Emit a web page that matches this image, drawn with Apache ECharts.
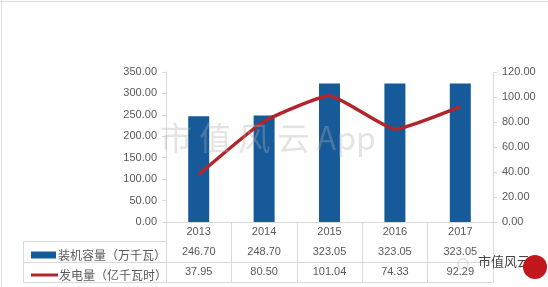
<!DOCTYPE html>
<html><head><meta charset="utf-8">
<script src="https://cdn.jsdelivr.net/npm/echarts@6/dist/echarts.min.js"></script>
<style>html,body{margin:0;padding:0;background:#fff}#c{width:548px;height:287px}</style>
</head><body><div id="c"></div>
<script>
var categories = ['2013', '2014', '2015', '2016', '2017'];
var capacity = [246.70, 248.70, 323.05, 323.05, 323.05];
var generation = [37.95, 80.50, 101.04, 74.33, 92.29];
var capName = '装机容量（万千瓦）';
var genName = '发电量（亿千瓦时）';

var gray = '#d9d9d9';
var txt = '#595959';
var chart = echarts.init(document.getElementById('c'), null, {renderer: 'canvas'});
function fmt(v){ return Number(v).toFixed(2); }
var tableAxis = function(data, offset, margin, showLabel){
  return {
    type: 'category', position: 'bottom', offset: offset, data: data,
    axisLine: {show: true, lineStyle: {color: gray, width: 1}},
    axisTick: {show: false},
    axisLabel: {show: showLabel, margin: margin, fontSize: 11, color: txt, fontFamily: 'Liberation Sans'},
    splitLine: {show: false}
  };
};
chart.setOption({
  animation: false,
  grid: {left: 166, right: 55, top: 72, bottom: 65},
  legend: [
    {data: [{name: capName, icon: 'rect'}], left: 26, top: 244, itemWidth: 25, itemHeight: 7,
     textStyle: {fontSize: 12, color: txt, fontFamily: 'Noto Sans CJK SC', padding: [0,0,0,-3]}},
    {data: [{name: genName, icon: 'rect'}], left: 26, top: 264, itemWidth: 27, itemHeight: 3,
     textStyle: {fontSize: 12, color: txt, fontFamily: 'Noto Sans CJK SC', padding: [0,0,0,-4]}}
  ],
  xAxis: [
    {type: 'category', data: categories, position: 'bottom',
     axisLine: {show: true, lineStyle: {color: gray}},
     axisTick: {show: true, length: 60, interval: 0, lineStyle: {color: gray}},
     axisLabel: {margin: 4, fontSize: 11, color: txt, fontFamily: 'Liberation Sans'}},
    tableAxis(capacity.map(fmt), 19, 5, true),
    tableAxis(generation.map(fmt), 40, 4, true),
    tableAxis(categories, 60, 4, false)
  ],
  yAxis: [
    {type: 'value', min: 0, max: 350, interval: 50, position: 'left',
     axisLine: {show: true, lineStyle: {color: gray}},
     axisTick: {show: true, length: 4, lineStyle: {color: gray}},
     splitLine: {show: false},
     axisLabel: {formatter: fmt, fontSize: 11, color: txt, margin: 9, fontFamily: 'Liberation Sans'}},
    {type: 'value', min: 0, max: 120, interval: 20, position: 'right',
     axisLine: {show: true, lineStyle: {color: gray}},
     axisTick: {show: true, length: 4, lineStyle: {color: gray}},
     splitLine: {show: false},
     axisLabel: {formatter: fmt, fontSize: 11, color: txt, margin: 9, fontFamily: 'Liberation Sans'}}
  ],
  series: [
    {name: capName, type: 'bar', data: capacity, barWidth: 21, xAxisIndex: 0, yAxisIndex: 0,
     itemStyle: {color: '#165a9a'}},
    {name: genName, type: 'line', data: generation, xAxisIndex: 0, yAxisIndex: 1,
     smooth: 0.15, symbol: 'none', lineStyle: {color: '#b0262c', width: 3.5}, itemStyle: {color: '#b0262c'}, z: 3}
  ],
  graphic: [
    {type: 'line', shape: {x1: 23, y1: 241.5, x2: 166, y2: 241.5}, style: {stroke: gray, lineWidth: 1}, silent: true},
    {type: 'line', shape: {x1: 23, y1: 262.5, x2: 166, y2: 262.5}, style: {stroke: gray, lineWidth: 1}, silent: true},
    {type: 'line', shape: {x1: 23, y1: 282.5, x2: 166, y2: 282.5}, style: {stroke: gray, lineWidth: 1}, silent: true},
    {type: 'line', shape: {x1: 23.5, y1: 241, x2: 23.5, y2: 283}, style: {stroke: gray, lineWidth: 1}, silent: true},
    {type: 'line', shape: {x1: 0, y1: 1.5, x2: 548, y2: 1.5}, style: {stroke: '#dddddd', lineWidth: 1}, silent: true},
    {type: 'line', shape: {x1: 1.5, y1: 0, x2: 1.5, y2: 287}, style: {stroke: '#dddddd', lineWidth: 1}, silent: true},
    {type: 'text', left: 160, top: 122, z: 100, silent: true,
     style: {text: '市 值 风 云 App', fontSize: 32, fill: 'rgba(175,175,175,0.35)', fontFamily: 'Noto Sans CJK SC'}},
    {type: 'text', left: 478, top: 255, z: 100, silent: true,
     style: {text: '市值风云', fontSize: 13, fill: '#444', fontFamily: 'Noto Sans CJK SC'}},
    {type: 'circle', shape: {cx: 535, cy: 267, r: 12}, z: 101, silent: true, style: {fill: '#c2171d'}},
    {type: 'circle', shape: {cx: 463, cy: 264, r: 5}, z: 101, silent: true, style: {fill: 'none', stroke: '#cccccc', lineWidth: 1}}
  ]
});
</script></body></html>
